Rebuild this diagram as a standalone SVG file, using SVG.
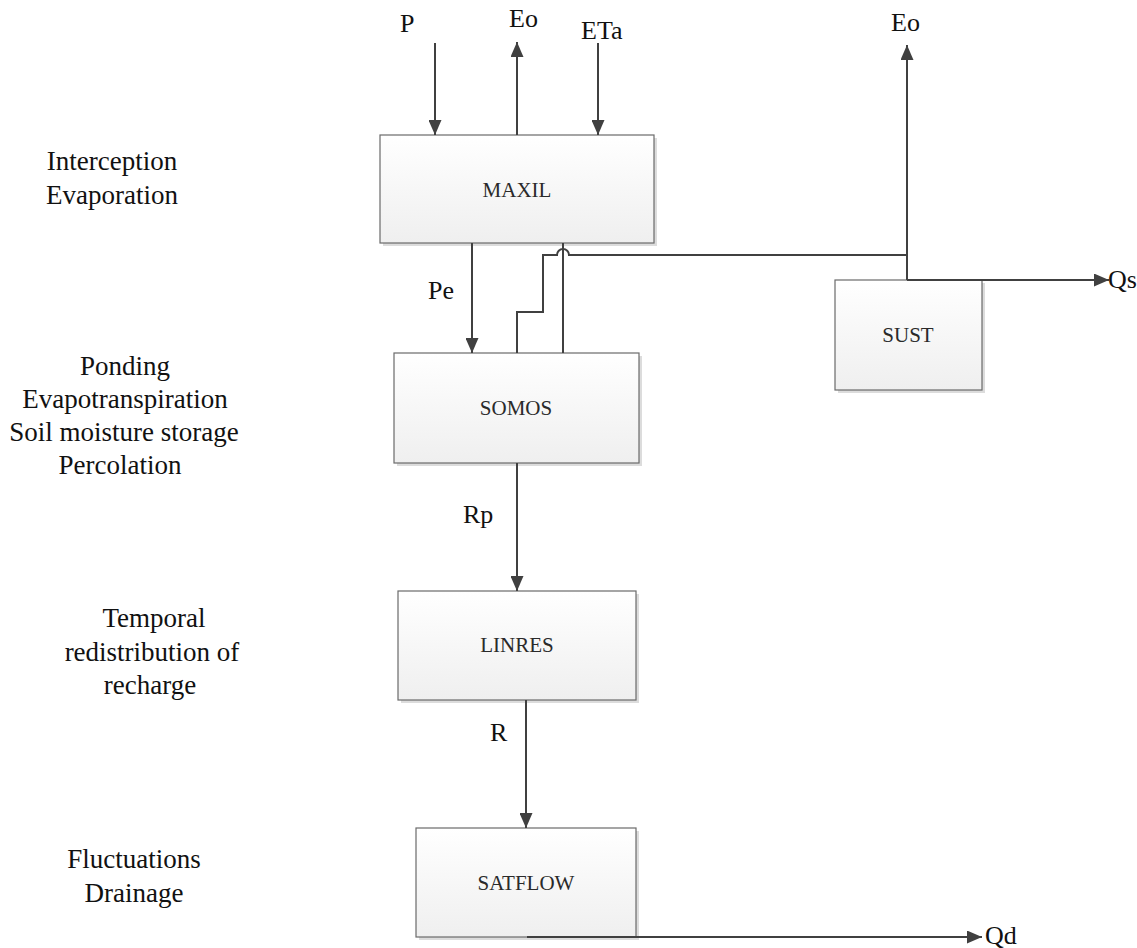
<svg xmlns="http://www.w3.org/2000/svg" width="1137" height="948" viewBox="0 0 1137 948">
<defs>
<linearGradient id="boxfill" x1="0" y1="0" x2="0" y2="1">
<stop offset="0" stop-color="#ffffff"/>
<stop offset="1" stop-color="#efefef"/>
</linearGradient>
<marker id="ah" viewBox="0 0 15 13" refX="15" refY="6.5" markerWidth="15" markerHeight="13" markerUnits="userSpaceOnUse" orient="auto">
<path d="M0,0 L15,6.5 L0,13 z" fill="#404040"/>
</marker>
<style>
.box{fill:url(#boxfill);stroke:#6a6a6a;stroke-width:1.2}
.shadow{fill:#dcdcdc}
.blabel{font-family:"Liberation Serif",serif;font-size:21px;fill:#2a2a2a;text-anchor:middle}
.lbl{font-family:"Liberation Serif",serif;font-size:26px;fill:#111}
.side{font-family:"Liberation Serif",serif;font-size:27px;fill:#111;text-anchor:middle}
.con{fill:none;stroke:#404040;stroke-width:2}
.arr{fill:none;stroke:#404040;stroke-width:2;marker-end:url(#ah)}
</style>
</defs>
<rect width="1137" height="948" fill="#ffffff"/>

<g id="side-labels">
<text class="side" x="112" y="170">Interception</text>
<text class="side" x="112" y="204">Evaporation</text>
<text class="side" x="125" y="375">Ponding</text>
<text class="side" x="125" y="408">Evapotranspiration</text>
<text class="side" x="124" y="441">Soil moisture storage</text>
<text class="side" x="120" y="474">Percolation</text>
<text class="side" x="154" y="627">Temporal</text>
<text class="side" x="152" y="661">redistribution of</text>
<text class="side" x="150" y="694">recharge</text>
<text class="side" x="134" y="868">Fluctuations</text>
<text class="side" x="134" y="902">Drainage</text>
</g>

<g id="node-maxil">
<rect class="shadow" x="383" y="138" width="274" height="108"/>
<rect class="box" x="380" y="135" width="274" height="108"/>
<text class="blabel" x="517" y="197">MAXIL</text>
</g>
<g id="node-somos">
<rect class="shadow" x="397" y="356" width="245" height="110"/>
<rect class="box" x="394" y="353" width="245" height="110"/>
<text class="blabel" x="516" y="415">SOMOS</text>
</g>
<g id="node-sust">
<rect class="shadow" x="838" y="283" width="147" height="110"/>
<rect class="box" x="835" y="280" width="147" height="110"/>
<text class="blabel" x="908" y="342">SUST</text>
</g>
<g id="node-linres">
<rect class="shadow" x="401" y="594" width="238" height="109"/>
<rect class="box" x="398" y="591" width="238" height="109"/>
<text class="blabel" x="517" y="652">LINRES</text>
</g>
<g id="node-satflow">
<rect class="shadow" x="419" y="831" width="220" height="109"/>
<rect class="box" x="416" y="828" width="220" height="109"/>
<text class="blabel" x="526" y="890">SATFLOW</text>
</g>

<g id="connectors">
<line class="arr" x1="435" y1="43" x2="435" y2="135"/>
<line class="arr" x1="517" y1="135" x2="517" y2="42"/>
<line class="arr" x1="598" y1="43" x2="598" y2="135"/>
<line class="arr" x1="472" y1="243" x2="472" y2="353"/>
<line class="con" x1="563" y1="243" x2="563" y2="353"/>
<path class="con" d="M517,353 V312 H543 V255 H557 A6,6 0 0 1 569,255 H907"/>
<line class="arr" x1="907" y1="280" x2="907" y2="45"/>
<line class="arr" x1="907" y1="280" x2="1109" y2="280"/>
<line class="arr" x1="527" y1="937" x2="982" y2="937"/>
<line class="arr" x1="517" y1="463" x2="517" y2="591"/>
<line class="arr" x1="526" y1="700" x2="526" y2="828"/>
</g>

<g id="flow-labels">
<text class="lbl" x="400" y="32">P</text>
<text class="lbl" x="509" y="27">Eo</text>
<text class="lbl" x="581" y="39">ETa</text>
<text class="lbl" x="891" y="31">Eo</text>
<text class="lbl" x="1108" y="288">Qs</text>
<text class="lbl" x="428" y="299">Pe</text>
<text class="lbl" x="463" y="523">Rp</text>
<text class="lbl" x="490" y="741">R</text>
<text class="lbl" x="985" y="944">Qd</text>
</g>
</svg>
